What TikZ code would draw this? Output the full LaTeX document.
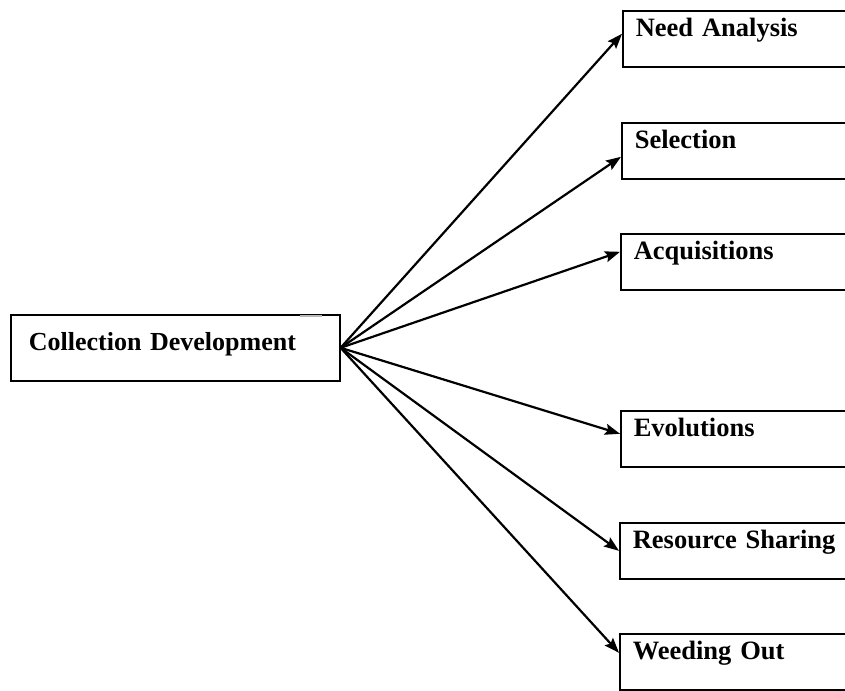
\documentclass[tikz,border=0pt]{standalone}
\usepackage{fontspec}
\setmainfont{Liberation Serif}
\usetikzlibrary{arrows.meta}

\tikzset{
  stagebox/.style={draw, line width=1.6pt, anchor=north west, inner xsep=13pt, inner ysep=0pt,
    text height=26pt, text depth=30pt, text width=215pt, align=left,
    font=\fontsize{26.5}{30}\selectfont\bfseries},
  mainbox/.style={draw, line width=1.6pt, anchor=north west, inner xsep=18pt, inner ysep=0pt,
    text height=36pt, text depth=30pt, text width=293pt, align=left,
    font=\fontsize{26}{30}\selectfont\bfseries},
  link/.style={line width=2.2pt, -{Stealth[length=15pt,width=11pt,inset=2.5pt]}}
}

\begin{document}
\begin{tikzpicture}[x=1pt,y=-1pt]
        \useasboundingbox[clip] (0,0) rectangle (845,690);
        % Main box
        \node[mainbox] (cd) at (10,314) {Collection Development};
        \draw[gray!55, line width=2pt] (300,316) -- (322,316);
        % Stage boxes
        \node[stagebox] (na) at (622,10) {Need Analysis};
        \node[stagebox] (sel) at (621,122) {Selection};
        \node[stagebox] (acq) at (620,233) {Acquisitions};
        \node[stagebox] (ev) at (620,410) {Evolutions};
        \node[stagebox] (rs) at (619,522) {Resource Sharing};
        \node[stagebox] (wo) at (619,633) {Weeding Out};
        % Arrows
        \foreach \target/\shift in {na/5,sel/-6,acq/10,ev/5,rs/0,wo/9}
          \draw[link] (cd.east) -- ([yshift=\shift pt]\target.west);
\end{tikzpicture}
\end{document}
